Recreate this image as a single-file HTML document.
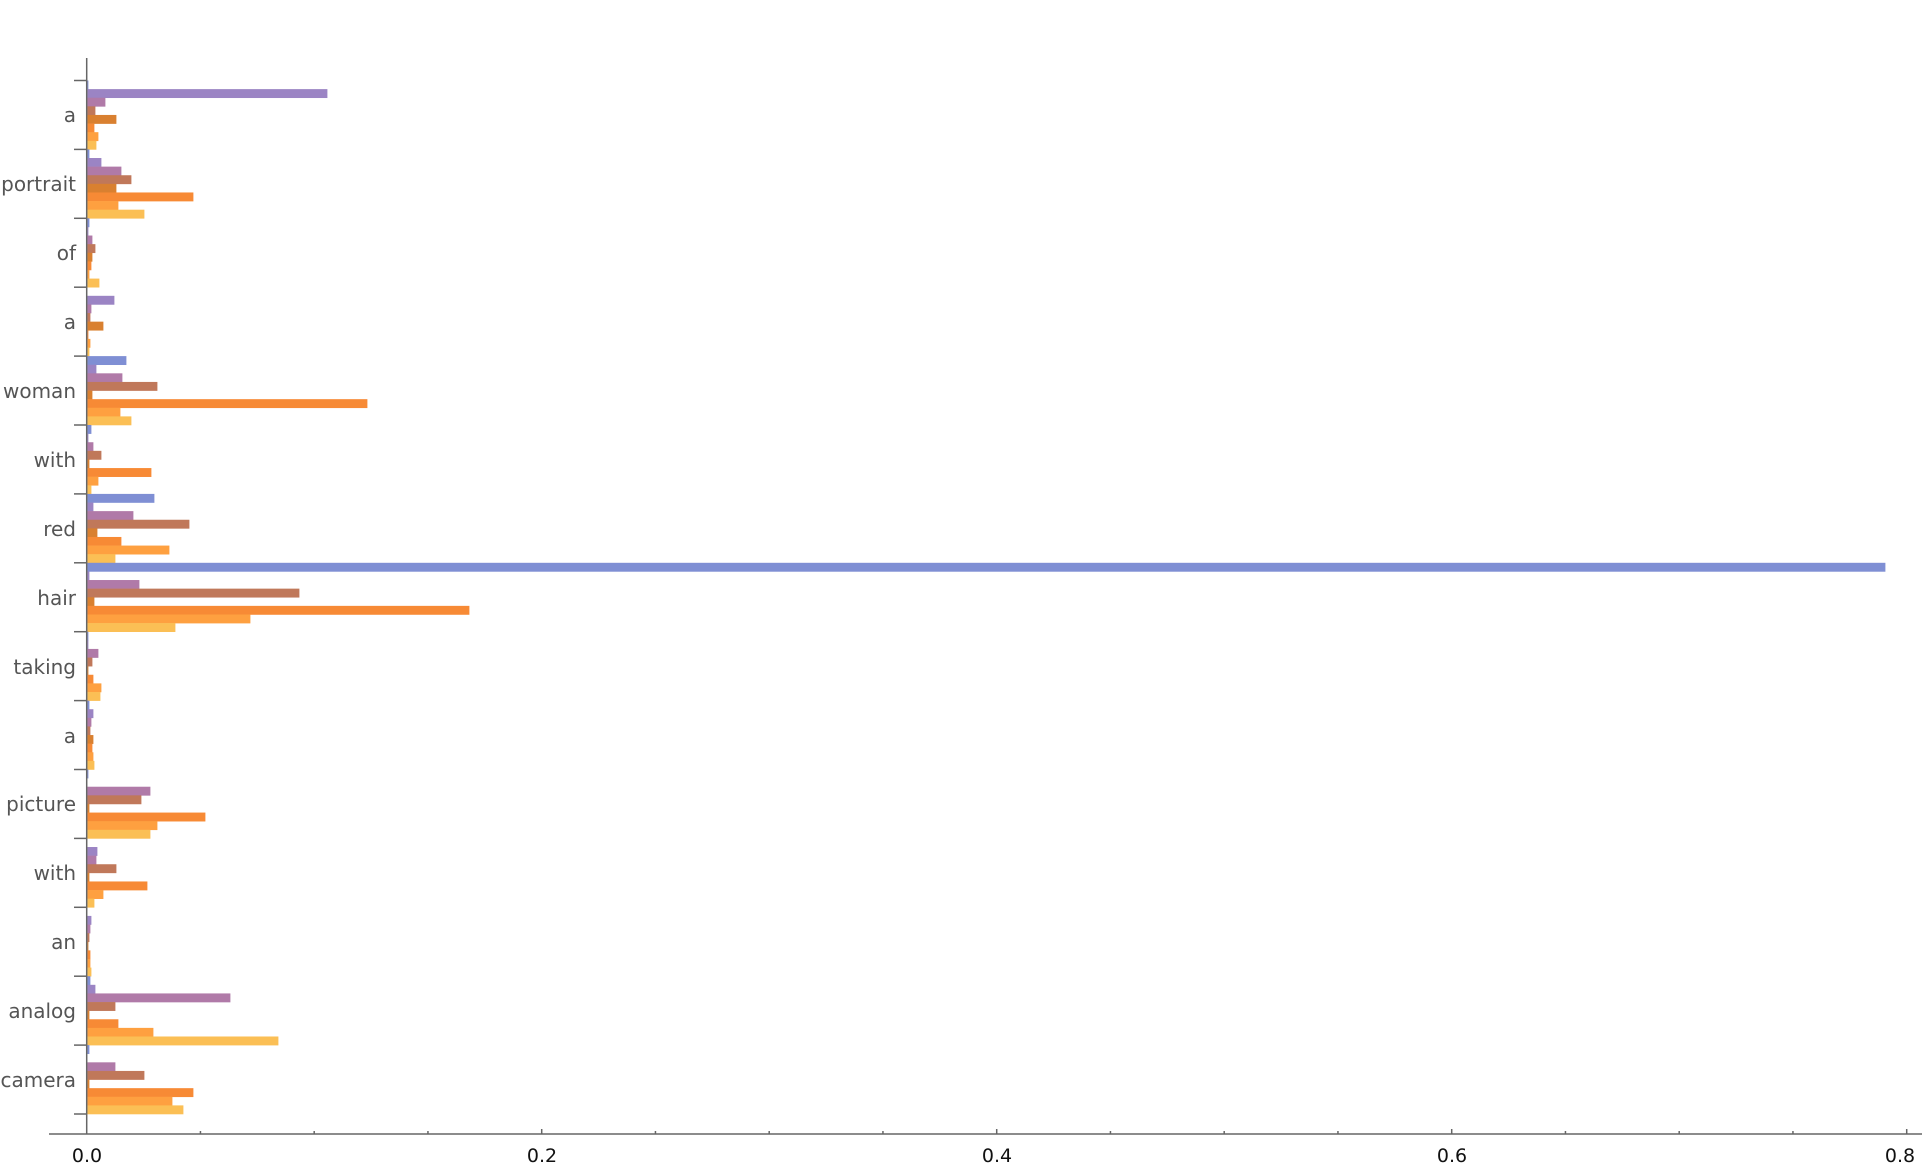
<!DOCTYPE html>
<html><head><meta charset="utf-8"><style>
html,body{margin:0;padding:0;background:#fff;}
svg{display:block;}
text{font-family:"DejaVu Sans","Liberation Sans",sans-serif;}
</style></head><body>
<svg id="s" width="1924" height="1166" viewBox="0 0 1924 1166" xmlns="http://www.w3.org/2000/svg">
<g id="bars"></g>
<g stroke="#666" stroke-width="1.5" fill="none">
<line x1="86.7" y1="58" x2="86.7" y2="1134"/>
<line x1="49" y1="1134" x2="1922" y2="1134"/>
</g>
<g id="ticks" stroke="#666" stroke-width="1.5"></g>
<g font-size="20" fill="#555" text-anchor="end">
<text x="76" y="122">a</text>
<text x="76" y="191">portrait</text>
<text x="76" y="260">of</text>
<text x="76" y="329">a</text>
<text x="76" y="398">woman</text>
<text x="76" y="467">with</text>
<text x="76" y="536">red</text>
<text x="76" y="605">hair</text>
<text x="76" y="674">taking</text>
<text x="76" y="743">a</text>
<text x="76" y="811">picture</text>
<text x="76" y="880">with</text>
<text x="76" y="949">an</text>
<text x="76" y="1018">analog</text>
<text x="76" y="1087">camera</text>
</g>
<g font-size="19" fill="#111" text-anchor="middle">
<text x="87" y="1162">0.0</text>
<text x="542" y="1162">0.2</text>
<text x="997" y="1162">0.4</text>
<text x="1452" y="1162">0.6</text>
<text x="1900" y="1162">0.8</text>
</g>
</svg>
<script>
var cols=["#7f8fd4","#9b84c4","#b07aa8","#c0785a","#d98030","#f78a35","#fea040","#fbbf55"];
var d=[
[1,240,18,8,29,7,11,9],
[2,14,34,44,29,106,31,57],
[2,1,5,8,5,4,2,12],
[0,27,4,3,16,1,3,2],
[39,9,35,70,5,280,33,44],
[4,1,6,14,2,64,11,4],
[67,6,46,102,10,34,82,28],
[1798,2,52,212,7,382,163,88],
[1,1,11,5,1,6,14,13],
[2,6,4,3,6,5,6,7],
[1,0,63,54,2,118,70,63],
[0,10,9,29,2,60,16,7],
[0,4,3,2,1,3,3,4],
[3,8,143,28,2,31,66,191],
[2,0,28,57,2,106,85,96]];
var ns="http://www.w3.org/2000/svg",g=document.getElementById("bars"),t=document.getElementById("ticks");
var x0=87.4,t0=80.5,sp=68.9,bh=sp/8;
for(var i=0;i<15;i++)for(var k=0;k<8;k++){if(!d[i][k])continue;var r=document.createElementNS(ns,"rect");
r.setAttribute("x",x0);r.setAttribute("y",t0+i*sp+k*bh);r.setAttribute("width",d[i][k]);r.setAttribute("height",bh+0.3);r.setAttribute("fill",cols[k]);g.appendChild(r);}
for(var i=0;i<=15;i++){var l=document.createElementNS(ns,"line");var y=t0+i*sp;l.setAttribute("x1",74);l.setAttribute("x2",87);l.setAttribute("y1",y);l.setAttribute("y2",y);t.appendChild(l);}
for(var j=1;j<=16;j++){var x=86.7+j*113.75;var l=document.createElementNS(ns,"line");l.setAttribute("x1",x);l.setAttribute("x2",x);l.setAttribute("y1",1134);l.setAttribute("y2",j%4==0?1129:1131);t.appendChild(l);}
</script>
</body></html>
